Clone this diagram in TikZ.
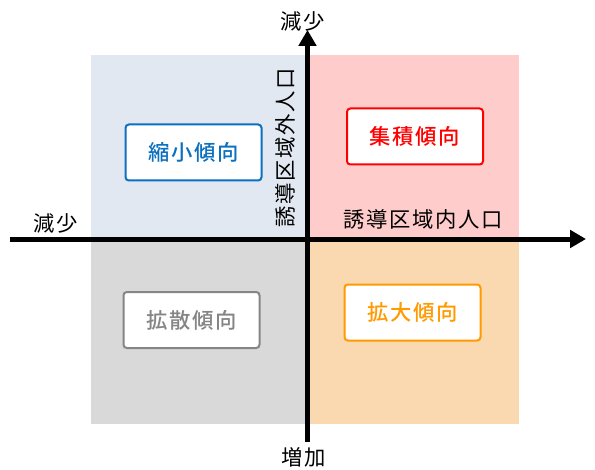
\documentclass[tikz,border=0pt]{standalone}
\usepackage{fontspec}
\setmainfont{Noto Sans CJK JP}[LetterSpace=8]
\newfontfamily\medfont{Noto Sans CJK JP}[UprightFont=* Medium, LetterSpace=8]
\usetikzlibrary{arrows.meta}
\definecolor{qTL}{HTML}{E1E8F1}
\definecolor{qTR}{HTML}{FFCCCC}
\definecolor{qBL}{HTML}{D9D9D9}
\definecolor{qBR}{HTML}{FAD9B1}
\definecolor{cBlue}{HTML}{0B70BF}
\definecolor{cRed}{HTML}{FF0000}
\definecolor{cGray}{HTML}{858585}
\definecolor{cOrange}{HTML}{FF9A00}
\tikzset{
  tbox/.style={draw=#1, text=#1, fill=white, line width=1.5pt, rounded corners=2.5pt,
    minimum width=102pt, minimum height=42pt, font=\medfont\fontsize{16}{18}\selectfont, inner sep=0pt},
  axislabel/.style={font=\fontsize{16}{18}\selectfont, inner sep=0pt},
  axisline/.style={line width=3.75pt, -{Triangle[length=12pt,width=13pt]}}
}
\begin{document}
\begin{tikzpicture}[x=0.75pt,y=-0.75pt]
\useasboundingbox (0,0) rectangle (595,470);
\fill[qTL] (91,55) rectangle (307,239);
\fill[qTR] (307,55) rectangle (519,239);
\fill[qBL] (91,239) rectangle (307,424);
\fill[qBR] (307,239) rectangle (519,424);
\node[tbox=cBlue] (shuku) at (193.5,152.5) {縮小傾向};
\node[tbox=cRed] (shuseki) at (415,136.5) {集積傾向};
\node[tbox=cGray] (kakusan) at (191.5,320) {拡散傾向};
\node[tbox=cOrange] (kakudai) at (412.5,312.5) {拡大傾向};
\coordinate (hs) at (10,239);
\coordinate (he) at (586,239);
\coordinate (vs) at (307.5,442);
\coordinate (ve) at (307.5,30);
\draw[axisline] (hs) -- (he);
\draw[axisline] (vs) -- (ve);
\node[axislabel] (top) at (303,21) {減少};
\node[axislabel] (left) at (56,223) {減少};
\node[axislabel] (bottom) at (304,457) {増加};
\node[axislabel] (inner) at (423,219) {誘導区域内人口};
\node[axislabel, rotate=90] (outer) at (285,148) {誘導区域外人口};
\end{tikzpicture}
\end{document}
